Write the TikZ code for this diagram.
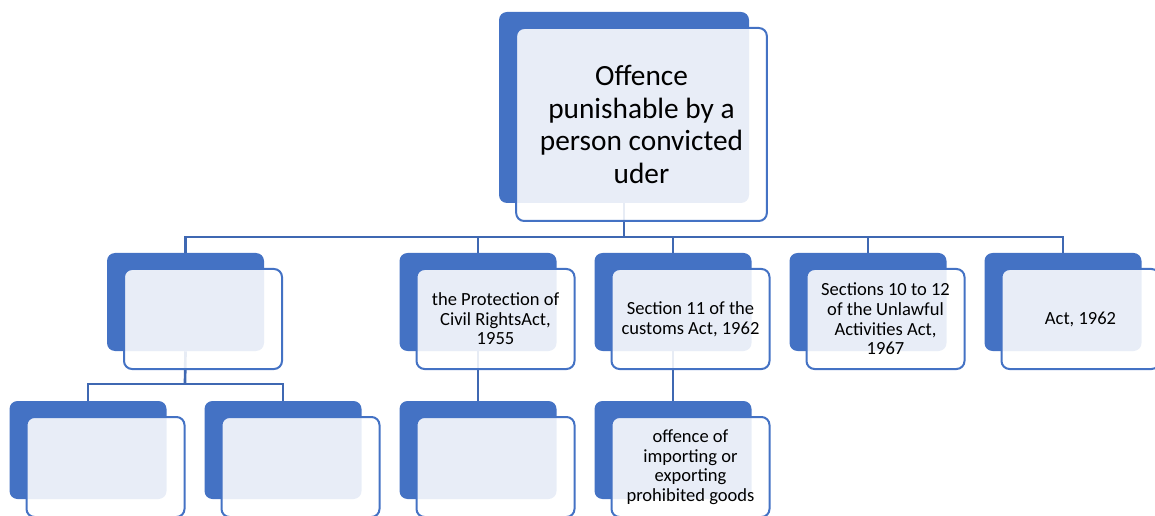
\documentclass[tikz,border=0pt]{standalone}
\usepackage{fontspec}
\setmainfont{Carlito}
\definecolor{accent}{HTML}{4472C4}
\definecolor{connc}{HTML}{3F68B2}
\tikzset{
  backbox/.style={fill=accent, rounded corners=6pt, inner sep=0pt, minimum width=117.75pt, minimum height=73.5pt},
  frontbox/.style={draw=accent, line width=1.5pt, fill=white, fill opacity=0.88, text opacity=1, rounded corners=6pt, inner sep=0pt, minimum width=118.5pt, minimum height=75pt, align=center, font=\fontsize{13.9}{14.7}\selectfont},
  topback/.style={backbox, minimum width=187.5pt, minimum height=143.25pt},
  topfront/.style={frontbox, minimum width=188pt, minimum height=144.75pt, font=\fontsize{22}{24.3}\selectfont},
  conn/.style={draw=connc, line width=2pt}
}
\begin{document}
\begin{tikzpicture}[x=0.75pt,y=-0.75pt]
\useasboundingbox (0,0) rectangle (1155,516);
% junction coordinates
\coordinate (j0) at (624,237);
\coordinate (j1) at (185,384);
% back boxes (positions)
\node[topback] (b0) at (624,107.5) {};
\node[backbox] (b1) at (185.5,302) {};
\node[backbox] (b2) at (478,302) {};
\node[backbox] (b3) at (673,302) {};
\node[backbox] (b4) at (868,302) {};
\node[backbox] (b5) at (1063,302) {};
\node[backbox] (b11) at (88,450) {};
\node[backbox] (b12) at (283,450) {};
\node[backbox] (b21) at (478,450) {};
\node[backbox] (b31) at (673,450) {};
% connectors
\draw[conn] (b0.south) -- (j0);
\foreach \c in {b1,b2,b3,b4,b5}{\draw[conn] (j0) -| (\c.north);}
\draw[conn] (b1.south) -- (j1);
\draw[conn] (j1) -| (b11.north);
\draw[conn] (j1) -| (b12.north);
\draw[conn] (b2.south) -- (b21.north);
\draw[conn] (b3.south) -- (b31.north);
% front boxes
\node[topfront] (f0) at (641.5,124.5) {Offence\\punishable by a\\person convicted\\uder};
\node[frontbox] (f1) at (203,319) {};
\node[frontbox] (f2) at (495.5,319) {the Protection of\\Civil RightsAct,\\1955};
\node[frontbox] (f3) at (690.5,319) {Section 11 of the\\customs Act, 1962};
\node[frontbox] (f4) at (885.5,319) {Sections 10 to 12\\of the Unlawful\\Activities Act,\\1967};
\node[frontbox] (f5) at (1080.5,319) {Act, 1962};
\node[frontbox] (f11) at (105.5,467) {};
\node[frontbox] (f12) at (300.5,467) {};
\node[frontbox] (f21) at (495.5,467) {};
\node[frontbox] (f31) at (690.5,467) {offence of\\importing or\\exporting\\prohibited goods};
\end{tikzpicture}
\end{document}
